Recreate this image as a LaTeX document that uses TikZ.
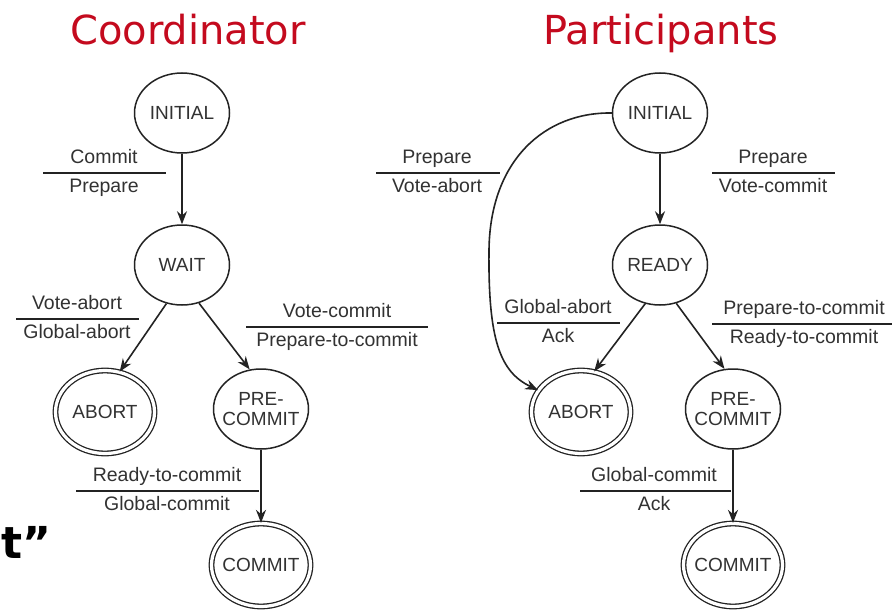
\documentclass[tikz,border=0pt]{standalone}
\usepackage{fontspec}
\setmainfont{Liberation Sans}
\newfontfamily\titlefont{DejaVu Sans}
\usepackage{tikz}
\usetikzlibrary{arrows.meta, shapes.geometric}
\definecolor{titlered}{RGB}{196,10,30}
\definecolor{ink}{RGB}{35,35,35}
\definecolor{labelgray}{RGB}{50,50,50}

\begin{document}
\begin{tikzpicture}[x=1pt, y=-1pt,
  state/.style={ellipse, draw=ink, line width=1.5pt, minimum width=95pt,
                minimum height=80pt, inner xsep=-12pt, inner ysep=0pt,
                font=\fontsize{19}{20}\selectfont, text=labelgray, align=center},
  final/.style={state, double, double distance=3.2pt, line width=1.3pt,
                minimum width=99pt, minimum height=83pt},
  title/.style={font=\titlefont\fontsize{40}{44}\selectfont, text=titlered, anchor=base},
  upper/.style={anchor=south, inner xsep=0pt, inner ysep=4.5pt, text height=14pt,
                text depth=4.5pt, font=\fontsize{19.5}{22}\selectfont, text=labelgray},
  lower/.style={anchor=north, inner xsep=0pt, inner ysep=5pt, text height=14pt,
                text depth=4.5pt, font=\fontsize{19.5}{22}\selectfont, text=labelgray},
  bar/.style={line width=1.5pt, draw=ink},
  arr/.style={-{Stealth[length=13pt, width=10pt]}, line width=1.6pt, draw=ink}
]
  \useasboundingbox (0,0) rectangle (892,610);
  \fill[white] (0,0) rectangle (892,610);
  \clip (0,0) rectangle (892,610);

  % titles
  \node[title] (ctitle) at (188,45) {Coordinator};
  \node[title] (ptitle) at (661,45) {Participants};

  % coordinator states
  \node[state] (cinit)   at (182,113) {INITIAL};
  \node[state] (cwait)   at (182,265) {WAIT};
  \node[final] (cabort)  at (105,412) {ABORT};
  \node[state] (cpre)    at (261,409) {PRE-\\COMMIT};
  \node[final] (ccommit) at (261,565) {COMMIT};

  % participant states
  \node[state] (pinit)   at (660,113) {INITIAL};
  \node[state] (pready)  at (660,265) {READY};
  \node[final] (pabort)  at (581,412) {ABORT};
  \node[state] (ppre)    at (733,409) {PRE-\\COMMIT};
  \node[final] (pcommit) at (733,565) {COMMIT};

  % coordinator transitions
  \draw[arr] (cinit) -- (cwait);
  \draw[arr] (cwait.248) -- (cabort.70);
  \draw[arr] (cwait.294) -- (cpre.106);
  \draw[arr] (cpre) -- (ccommit);

  % participant transitions
  \draw[arr] (pinit) -- (pready);
  \draw[arr] (pready.249) -- (pabort.72);
  \draw[arr] (pready.293) -- (ppre.102);
  \draw[arr] (ppre) -- (pcommit);
  \coordinate (pbend) at (489,250);
  \draw[arr] (pinit.west) .. controls (545,112) and (490,160) .. (pbend)
             .. controls (488,340) and (500,372) .. (pabort.153);

  % coordinator labels
  \node[upper] (c1a) at (104,173) {Commit};
  \node[lower] (c1b) at (104,173) {Prepare};
  \draw[bar] (43,173) -- (166,173);

  \node[upper] (c2a) at (77,319) {Vote-abort};
  \node[lower] (c2b) at (77,319) {Global-abort};
  \draw[bar] (16,319) -- (139,319);

  \node[upper] (c3a) at (337,327) {Vote-commit};
  \node[lower] (c3b) at (337,327) {Prepare-to-commit};
  \draw[bar] (246,327) -- (428,327);

  \node[upper] (c4a) at (167,491) {Ready-to-commit};
  \node[lower] (c4b) at (167,491) {Global-commit};
  \draw[bar] (76,491) -- (259,491);

  % participant labels
  \node[upper] (p1a) at (437,173) {Prepare};
  \node[lower] (p1b) at (437,173) {Vote-abort};
  \draw[bar] (376,173) -- (500,173);

  \node[upper] (p2a) at (773,173) {Prepare};
  \node[lower] (p2b) at (773,173) {Vote-commit};
  \draw[bar] (712,173) -- (835,173);

  \node[upper] (p3a) at (558,323) {Global-abort};
  \node[lower] (p3b) at (558,323) {Ack};
  \draw[bar] (497,323) -- (620,323);

  \node[upper] (p4a) at (804,324) {Prepare-to-commit};
  \node[lower] (p4b) at (804,324) {Ready-to-commit};
  \draw[bar] (712,324) -- (892,324);

  \node[upper] (p5a) at (654,491) {Global-commit};
  \node[lower] (p5b) at (654,491) {Ack};
  \draw[bar] (580,491) -- (731,491);

  % leftover from the slide
  \node[anchor=base west, inner sep=0pt, font=\titlefont\bfseries\fontsize{44}{44}\selectfont]
    (stray) at (1,558) {t”};
\end{tikzpicture}
\end{document}
